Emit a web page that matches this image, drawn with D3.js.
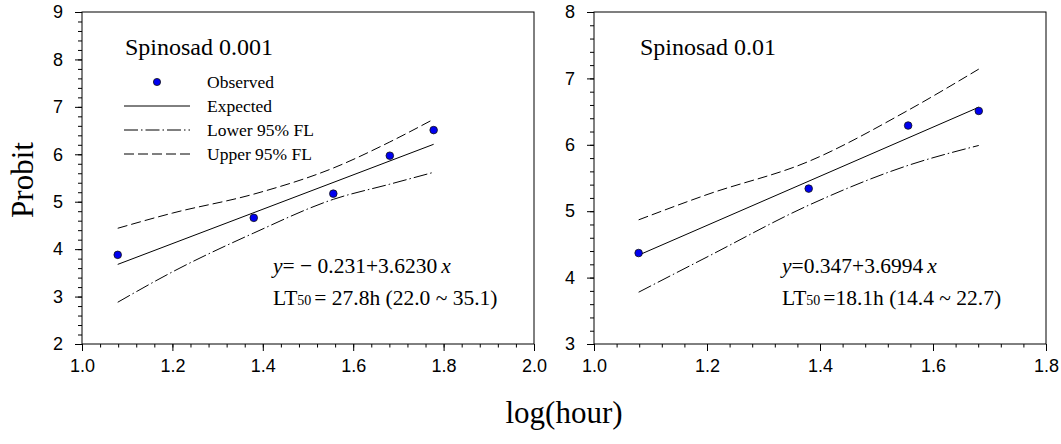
<!DOCTYPE html>
<html>
<head>
<meta charset="utf-8">
<script src="https://cdn.jsdelivr.net/npm/d3@7"></script>
<style>
  body { margin: 0; background: #fff; }
  svg { display: block; }
  .tick text { font-family: "Liberation Sans", Arial, sans-serif; font-size: 18px; fill: #000; }
  .serif { font-family: "Liberation Serif", "Times New Roman", serif; fill: #000; }
</style>
</head>
<body>
<div class="chart"></div>
<script>
var svgWidth = 1061;
var svgHeight = 444;

// log(hour) of the observation times
var hoursA = [1.079, 1.380, 1.556, 1.681, 1.778];
var hoursB = [1.079, 1.380, 1.556, 1.681];

// observed probits
var observedA = [3.88, 4.66, 5.17, 5.97, 6.51];
var observedB = [4.37, 5.34, 6.29, 6.51];

// regression lines (intercept, slope)
var fitA = [-0.231, 3.6230];
var fitB = [0.347, 3.6994];

// fiducial limits
var flX_A = [1.079, 1.2, 1.380, 1.556, 1.681, 1.778];
var lowerA = [2.88, 3.52, 4.34, 5.05, 5.37, 5.62];
var upperA = [4.44, 4.76, 5.16, 5.71, 6.26, 6.74];
var flX_B = [1.079, 1.2, 1.380, 1.556, 1.681];
var lowerB = [3.78, 4.31, 5.09, 5.69, 5.99];
var upperB = [4.87, 5.25, 5.75, 6.52, 7.14];

var titles = ["Spinosad 0.001", "Spinosad 0.01"];
var eqBody = ["= \u2212 0.231+3.6230", "=0.347+3.6994"];
var ltText = ["= 27.8h (22.0 ~ 35.1)", "=18.1h (14.4 ~ 22.7)"];
var legendLabels = ["Observed", "Expected", "Lower 95% FL", "Upper 95% FL"];

var dashUpper = "10,4";
var dashLower = "14,3,1.5,3";

var svg = d3.select(".chart")
  .append("svg")
  .attr("width", svgWidth)
  .attr("height", svgHeight);

var panels = [
  { left: 82, right: 534, top: 12, bottom: 344, xDomain: [1.0, 2.0], yDomain: [2, 9],
    xs: hoursA, obs: observedA, fit: fitA, flx: flX_A, lower: lowerA, upper: upperA,
    title: titles[0], eq: eqBody[0], lt: ltText[0], titleX: 125, eqX: 273, legend: true },
  { left: 594, right: 1046, top: 12, bottom: 344, xDomain: [1.0, 1.8], yDomain: [3, 8],
    xs: hoursB, obs: observedB, fit: fitB, flx: flX_B, lower: lowerB, upper: upperB,
    title: titles[1], eq: eqBody[1], lt: ltText[1], titleX: 640, eqX: 782, legend: false }
];

panels.forEach(function(p) {
  var x = d3.scaleLinear().domain(p.xDomain).range([p.left, p.right]);
  var y = d3.scaleLinear().domain(p.yDomain).range([p.bottom, p.top]);
  var g = svg.append("g");

  // minor ticks
  var xMinor = d3.range(p.xDomain[0], p.xDomain[1] + 1e-9, 0.04);
  var yMinor = d3.range(p.yDomain[0], p.yDomain[1] + 1e-9, 0.2);

  g.append("g")
    .attr("transform", `translate(0, ${p.bottom})`)
    .call(d3.axisBottom(x).tickValues(xMinor).tickSize(3.5).tickFormat(""))
    .call(a => a.select(".domain").remove());
  g.append("g")
    .attr("transform", `translate(${p.left}, 0)`)
    .call(d3.axisLeft(y).tickValues(yMinor).tickSize(4).tickFormat(""))
    .call(a => a.select(".domain").remove());

  // major ticks
  g.append("g")
    .attr("transform", `translate(0, ${p.bottom})`)
    .call(d3.axisBottom(x).tickValues(d3.range(p.xDomain[0], p.xDomain[1] + 1e-9, 0.2))
      .tickSize(7).tickPadding(8).tickFormat(d3.format(".1f")))
    .call(a => a.select(".domain").remove());
  g.append("g")
    .attr("transform", `translate(${p.left}, 0)`)
    .call(d3.axisLeft(y).ticks(p.yDomain[1] - p.yDomain[0]).tickSize(7).tickPadding(12).tickFormat(d3.format("d")))
    .call(a => a.select(".domain").remove());

  g.selectAll(".tick line").attr("stroke", "#000");

  // frame
  g.append("rect")
    .attr("x", p.left).attr("y", p.top)
    .attr("width", p.right - p.left).attr("height", p.bottom - p.top)
    .attr("fill", "none").attr("stroke", "#000").attr("stroke-width", 1);

  var line = d3.line().x(d => x(d[0])).y(d => y(d[1])).curve(d3.curveMonotoneX);

  // upper FL
  g.append("path")
    .datum(p.flx.map((v, i) => [v, p.upper[i]]))
    .attr("d", line).attr("fill", "none").attr("stroke", "#000")
    .attr("stroke-width", 1).attr("stroke-dasharray", dashUpper);
  // lower FL
  g.append("path")
    .datum(p.flx.map((v, i) => [v, p.lower[i]]))
    .attr("d", line).attr("fill", "none").attr("stroke", "#000")
    .attr("stroke-width", 1).attr("stroke-dasharray", dashLower);
  // expected
  var x0 = p.xs[0], x1 = p.xs[p.xs.length - 1];
  g.append("path")
    .datum([[x0, p.fit[0] + p.fit[1] * x0], [x1, p.fit[0] + p.fit[1] * x1]])
    .attr("d", d3.line().x(d => x(d[0])).y(d => y(d[1])))
    .attr("fill", "none").attr("stroke", "#000").attr("stroke-width", 1);

  // observed
  g.selectAll("circle.obs")
    .data(p.xs.map((v, i) => [v, p.obs[i]]))
    .enter().append("circle")
    .attr("class", "obs")
    .attr("cx", d => x(d[0])).attr("cy", d => y(d[1]))
    .attr("r", 3.8).attr("fill", "#0000f0").attr("stroke", "#111").attr("stroke-width", 0.8);

  // title
  g.append("text").attr("class", "serif")
    .attr("x", p.titleX).attr("y", 55)
    .style("font-size", "24px").text(p.title);

  // equation
  var eq = g.append("text").attr("class", "serif")
    .attr("x", p.eqX).attr("y", 273).style("font-size", "21.5px");
  eq.append("tspan").style("font-style", "italic").text("y");
  eq.append("tspan").text(p.eq);
  eq.append("tspan").style("font-style", "italic").attr("dx", 4).text("x");

  var lt = g.append("text").attr("class", "serif")
    .attr("x", p.eqX).attr("y", 305).style("font-size", "21.5px");
  lt.append("tspan").text("LT");
  lt.append("tspan").style("font-size", "14px").text("50");
  lt.append("tspan").attr("dx", 3).text(p.lt);

  // legend
  if (p.legend) {
    var lg = g.append("g");
    legendLabels.forEach(function(lab, i) {
      var ly = 82 + i * 24;
      if (i === 0) {
        lg.append("circle").attr("cx", 157).attr("cy", ly).attr("r", 3.6)
          .attr("fill", "#0000f0").attr("stroke", "#111").attr("stroke-width", 0.8);
      } else {
        lg.append("line").attr("x1", 124).attr("x2", 190).attr("y1", ly).attr("y2", ly)
          .attr("stroke", "#000").attr("stroke-width", 1)
          .attr("stroke-dasharray", i === 1 ? null : (i === 2 ? dashLower : dashUpper));
      }
      lg.append("text").attr("class", "serif")
        .attr("x", 207).attr("y", ly + 6).style("font-size", "17.5px").text(lab);
    });
  }
});

// axis titles
svg.append("text").attr("class", "serif")
  .attr("transform", "translate(33, 180) rotate(-90)")
  .attr("text-anchor", "middle")
  .style("font-size", "31px").text("Probit");

svg.append("text").attr("class", "serif")
  .attr("x", 564).attr("y", 423)
  .attr("text-anchor", "middle")
  .style("font-size", "31px").text("log(hour)");
</script>
</body>
</html>
